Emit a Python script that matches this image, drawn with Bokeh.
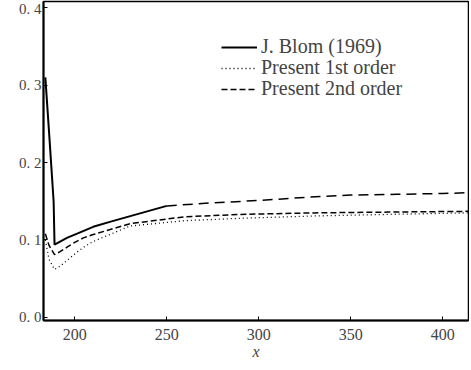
from bokeh.plotting import figure
from bokeh.models import Range1d, Legend, LegendItem, FixedTicker
from bokeh.embed import file_html
from bokeh.resources import INLINE

# J. Blom (1969)
blom_x = [184, 186, 188.5, 189, 192, 196, 200, 210, 220, 235, 250, 275, 300, 325, 350, 375, 400, 414]
blom_y = [0.31, 0.24, 0.15, 0.094, 0.098, 0.103, 0.107, 0.117, 0.124, 0.134, 0.144, 0.148, 0.151, 0.155, 0.158, 0.159, 0.160, 0.161]

# Present 1st order
first_x = [184, 186, 189, 192, 196, 200, 205, 210, 230, 260, 290, 330, 370, 414]
first_y = [0.100, 0.075, 0.062, 0.066, 0.074, 0.082, 0.091, 0.098, 0.118, 0.125, 0.128, 0.131, 0.133, 0.135]

# Present 2nd order
second_x = [184, 186, 189, 192, 196, 200, 205, 210, 230, 260, 290, 330, 370, 414]
second_y = [0.108, 0.093, 0.081, 0.085, 0.091, 0.097, 0.103, 0.107, 0.121, 0.130, 0.133, 0.135, 0.136, 0.137]

x_ticks = [200, 250, 300, 350, 400]
y_ticks = [0.0, 0.1, 0.2, 0.3, 0.4]
y_tick_labels = ["0. 0", "0. 1", "0. 2", "0. 3", "0. 4"]
labels = ["J. Blom (1969)", "Present 1st order", "Present 2nd order"]

FONT = "Liberation Serif"

p = figure(width=469, height=362, output_backend="svg", toolbar_location=None,
           x_range=Range1d(183, 414), y_range=Range1d(-0.004, 0.408),
           min_border_left=43, min_border_right=1, min_border_top=1, min_border_bottom=42)

p.background_fill_color = "white"
p.border_fill_color = "white"
p.outline_line_color = "black"
p.outline_line_width = 1.5
p.xgrid.visible = False
p.ygrid.visible = False

split = blom_x.index(250)
r_blom = p.line(blom_x[:split + 1], blom_y[:split + 1], line_color="black", line_width=2)
p.line(blom_x[split:], blom_y[split:], line_color="black", line_width=1.5, line_dash="10 6")
r_first = p.line(first_x, first_y, line_color="black", line_width=1.3, line_dash="1 3")
r_second = p.line(second_x, second_y, line_color="black", line_width=1.5, line_dash="6 3")

xa = p.xaxis[0]
xa.ticker = FixedTicker(ticks=x_ticks)
xa.axis_label = "x"
xa.axis_label_text_font = FONT
xa.axis_label_text_font_style = "italic"
xa.axis_label_text_font_size = "16px"
xa.axis_label_standoff = 0
xa.major_label_text_font = FONT
xa.major_label_text_font_size = "16px"
xa.major_label_standoff = 8
xa.major_tick_in = 4
xa.major_tick_out = 0
xa.minor_tick_in = 0
xa.minor_tick_out = 0
xa.axis_line_width = 2

ya = p.yaxis[0]
ya.ticker = FixedTicker(ticks=y_ticks)
ya.major_label_overrides = {t: s for t, s in zip(y_ticks, y_tick_labels)}
ya.major_label_text_font = FONT
ya.major_label_text_font_size = "15px"
ya.major_label_standoff = 2
ya.major_tick_in = 4
ya.major_tick_out = 0
ya.minor_tick_in = 0
ya.minor_tick_out = 0
ya.axis_line_width = 2

# one single-entry legend per row, so the rows sit ~21px apart as in the original
row_bottoms = [262, 241, 220]
for lab, r, yb in zip(labels, [r_blom, r_first, r_second], row_bottoms):
    lg = Legend(items=[LegendItem(label=lab, renderers=[r])],
                location=(178, yb), border_line_color=None, background_fill_alpha=0,
                label_text_font=FONT, label_text_font_size="20px",
                glyph_width=36, glyph_height=20, label_height=20, label_standoff=4,
                padding=0, spacing=0, margin=0)
    p.add_layout(lg)

open("out.html", "w").write(file_html(p, INLINE))
